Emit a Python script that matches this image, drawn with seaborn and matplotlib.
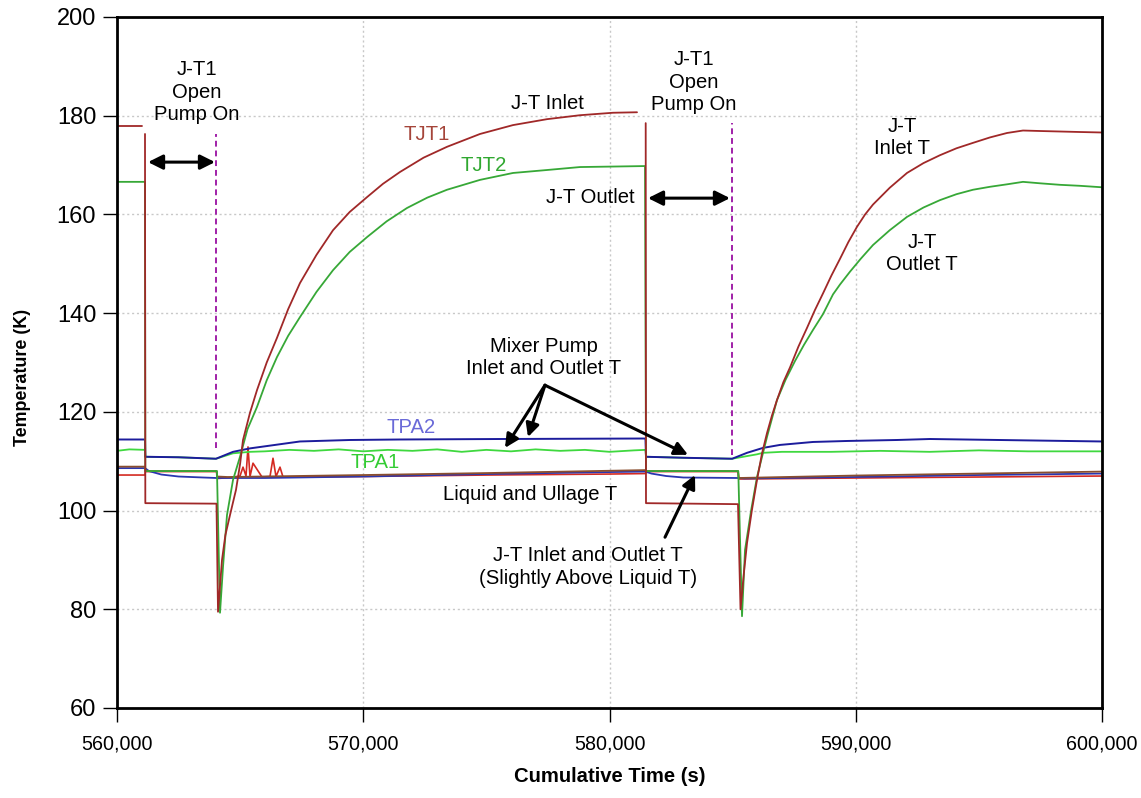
import numpy as np
import pandas as pd
import matplotlib
matplotlib.use("Agg")
import matplotlib.pyplot as plt
import matplotlib.ticker as mticker
from matplotlib import font_manager as fm
import seaborn as sns

NA = np.nan
# ---------------- data ----------------
tjt1_t = [560000, 561003, NA, 561137, 561150, 564040, 564102, 564180, 564264, 564400,
          564589, 564832, 565000, 565117, 565400, 565685, 566080, 566497, 566950, 567431,
          568100, 568772, 569450, 570152, 570800, 571492, 572450, 573401, 574741, 576081,
          577462, 578802, 580142, 581117, NA, 581470, 581482, 585218, 585320, 585450,
          585584, 585780, 585990, 586190, 586396, 586600, 586802, 587060, 587330, 587670,
          588020, 588340, 588670, 589010, 589360, 589700, 590051, 590380, 590700, 591380,
          592081, 592750, 593421, 594090, 594761, 595450, 596142, 596792, 597500, 598294,
          599100, 600000]
tjt1_v = [178.0, 178.0, NA, 176.3, 101.5, 101.4, 79.5, 84.5, 90.0, 95.0,
          99.1, 104.2, 109.5, 114.3, 119.8, 124.4, 130.0, 135.0, 140.8, 146.1,
          151.8, 156.8, 160.5, 163.5, 166.2, 168.6, 171.5, 173.7, 176.3, 178.1,
          179.3, 180.1, 180.6, 180.7, NA, 178.5, 101.5, 101.3, 80.0, 87.0,
          93.4, 100.0, 106.2, 111.5, 115.7, 119.3, 122.4, 126.0, 129.0, 133.2,
          137.0, 140.6, 144.0, 147.6, 151.0, 154.4, 157.5, 160.0, 162.0, 165.4,
          168.4, 170.4, 172.0, 173.4, 174.5, 175.6, 176.5, 177.0, 176.9, 176.8,
          176.7, 176.6]

tjt2_t = [560000, 561137, 561150, 564060, 564183, 564305, 564467, 564711, 564995, 565300,
          565685, 566080, 566497, 566950, 567431, 568100, 568772, 569450, 570152, 570950,
          571776, 572600, 573401, 574741, 576081, 577462, 578802, 580142, 581442, 581482,
          585230, 585381, 585503, 585750, 585990, 586400, 586802, 587150, 587533, 587900,
          588264, 588670, 589076, 589360, 589766, 590200, 590700, 591380, 592081, 592750,
          593421, 594090, 594761, 595450, 596142, 596792, 597500, 598294, 599100, 600000]
tjt2_v = [166.6, 166.6, 108.0, 108.0, 79.3, 88.6, 99.1, 106.2, 110.9, 116.5,
          121.0, 126.4, 131.1, 135.4, 139.2, 144.3, 148.7, 152.4, 155.4, 158.6,
          161.3, 163.4, 165.0, 167.0, 168.4, 169.0, 169.6, 169.7, 169.8, 108.0,
          108.0, 78.6, 92.0, 100.0, 106.8, 115.0, 122.4, 126.5, 130.3, 133.6,
          136.6, 139.8, 143.8, 145.8, 148.4, 151.0, 153.8, 156.8, 159.5, 161.4,
          162.9, 164.1, 165.0, 165.6, 166.1, 166.6, 166.3, 166.0, 165.8, 165.5]

tpa2_t = [560000, 561137, 561150, 562500, 564020, 564711, 565401, 566416, 567431, 569462,
          571492, 575553, 581460, 581482, 583000, 584980, 585584, 586234, 586924, 588264,
          589644, 591675, 593015, 600000]
tpa2_v = [114.4, 114.4, 110.9, 110.8, 110.5, 111.9, 112.6, 113.3, 114.0, 114.3,
          114.4, 114.5, 114.6, 110.9, 110.7, 110.5, 111.7, 112.7, 113.3, 113.9,
          114.1, 114.3, 114.5, 114.0]

tpa1_t = [560000, 560500, 561137, 561150, 562500, 564020, 564711, 565401, 566000, 567000,
          568000, 569000, 570000, 571000, 572000, 573000, 574000, 575000, 576000, 577000,
          578000, 579000, 580000, 581000, 581460, 581482, 583000, 584980, 585990, 586234,
          587000, 589000, 591000, 593000, 595000, 597000, 600000]
tpa1_v = [112.1, 112.4, 112.3, 110.9, 110.8, 110.5, 111.6, 111.9, 112.0, 112.3,
          112.1, 112.4, 112.0, 112.3, 112.1, 112.4, 111.9, 112.3, 112.0, 112.4,
          112.1, 112.3, 111.9, 112.2, 112.3, 110.9, 110.7, 110.5, 111.4, 111.7,
          111.9, 111.9, 112.1, 111.9, 112.2, 112.0, 112.0]

ullage_t = [560000, 561137, 561150, 564045, 564060, 564500, 570000, 575000, 581460, 581482,
            585220, 585240, 590000, 595000, 600000]
ullage_v = [108.9, 108.9, 108.0, 108.0, 106.9, 106.8, 107.2, 107.6, 108.2, 108.0,
            108.0, 106.6, 107.1, 107.5, 107.9]

liquid_t = [560000, 561137, 561300, 561800, 562500, 563500, 564050, 566000, 570000, 575000,
            580000, 581460, 581700, 582300, 583000, 585200, 585500, 590000, 595000, 600000]
liquid_v = [108.6, 108.6, 108.0, 107.3, 106.9, 106.7, 106.6, 106.6, 106.9, 107.4,
            107.8, 107.9, 107.5, 107.0, 106.7, 106.6, 106.5, 106.8, 107.2, 107.5]

red_t = [560000, 561137, 561150, 564045, 564080, 564600, 564995, 565117, 565239, 565320,
         565401, 565523, 565888, 566213, 566335, 566457, 566619, 566741, 567500, 570000,
         575000, 580000, 581460, 581482, 585220, 585260, 590000, 595000, 600000]
red_v = [107.2, 107.2, 107.9, 107.9, 106.5, 106.7, 107.0, 108.8, 107.0, 112.9,
         106.9, 109.6, 106.8, 106.9, 110.6, 106.9, 108.8, 106.8, 106.8, 106.9,
         107.2, 107.4, 107.5, 107.9, 107.9, 106.4, 106.6, 106.8, 107.0]

# event markers
pump_on_t = [564020, 584974]
pump_on_top = [176.3, 178.5]
pump_on_bottom = [112.6, 111.3]
span_start = [561259, 581563]
span_end = [563980, 584893]
span_y = [170.6, 163.3]

x_ticks = [560000, 570000, 580000, 590000, 600000]
y_ticks = [60, 80, 100, 120, 140, 160, 180, 200]

# ---------------- style ----------------
sns.set_theme(style="white")
installed = {f.name for f in fm.fontManager.ttflist}
if 'Liberation Sans Narrow' in installed:
    NARROW = ['Liberation Sans Narrow', 'DejaVu Sans']
    scale = 1.0
else:
    NARROW = ['Liberation Sans', 'DejaVu Sans']
    scale = 0.86
REG = ['Liberation Sans', 'DejaVu Sans']
plt.rcParams['font.family'] = NARROW
plt.rcParams['text.color'] = 'black'
plt.rcParams['axes.labelcolor'] = 'black'
plt.rcParams['xtick.color'] = 'black'
plt.rcParams['ytick.color'] = 'black'

fig = plt.figure(figsize=(11.41, 7.98), dpi=100)
ax = fig.add_axes([117 / 1141, 1 - 708 / 798, (1102 - 117) / 1141, (708 - 17) / 798])

series = [
    (red_t, red_v, '#D42A22', 1.2),
    (liquid_t, liquid_v, '#2A36B0', 1.3),
    (ullage_t, ullage_v, '#8A4E2E', 1.3),
    (tpa1_t, tpa1_v, '#3FD83F', 1.3),
    (tpa2_t, tpa2_v, '#1C1C9C', 1.4),
    (tjt2_t, tjt2_v, '#37A837', 1.3),
    (tjt1_t, tjt1_v, '#A02828', 1.3),
]
for t, v, c, lw in series:
    df = pd.DataFrame({'t': t, 'v': v})
    df['seg'] = df['t'].isna().cumsum()
    df = df.dropna()
    sns.lineplot(data=df, x='t', y='v', units='seg', ax=ax, color=c, linewidth=lw,
                 estimator=None, sort=False, legend=False)

# pump-on dashed lines
for x, y0, y1 in zip(pump_on_t, pump_on_bottom, pump_on_top):
    ax.vlines(x, y0, y1, colors='#A020A8', linestyles=(0, (3, 2)), linewidth=1.4, zorder=5)

# double arrows
for x0, x1, y in zip(span_start, span_end, span_y):
    ax.annotate('', xy=(x1, y), xytext=(x0, y),
                arrowprops=dict(arrowstyle='<|-|>', color='black', lw=2.2,
                                mutation_scale=22, shrinkA=0, shrinkB=0))

# axes formatting
ax.set_xlim(560000, 600000)
ax.set_ylim(60, 200)
ax.set_xticks(x_ticks)
ax.set_yticks(y_ticks)
ax.xaxis.set_major_formatter(mticker.FuncFormatter(lambda x, p: f"{int(x):,}"))
ax.grid(True, color='#C8C8C8', linestyle=(0, (1.5, 2)), linewidth=1.0)
ax.set_axisbelow(True)
for s in ax.spines.values():
    s.set_color('black')
    s.set_linewidth(2.0)
ax.tick_params(axis='both', direction='out', length=10, width=1.0, color='black',
               labelcolor='black', left=True, bottom=True)
ax.tick_params(axis='x', pad=9)
ax.tick_params(axis='y', pad=5)
for lab in ax.get_xticklabels():
    lab.set_fontsize(16.5 * scale)
    lab.set_family(NARROW)
for lab in ax.get_yticklabels():
    lab.set_fontsize(17)
    lab.set_family(REG)

ax.set_xlabel('Cumulative Time (s)', fontsize=17 * scale, fontweight='bold', labelpad=10,
              color='black')
ax.set_ylabel('Temperature (K)', fontsize=15 * scale, fontweight='bold', color='black')
ax.yaxis.set_label_coords(-0.087, 0.478)

# annotations
FS = 17 * scale
def txt(x, y, s, color='black', **kw):
    ax.text(x, y, s, color=color, fontsize=FS, ha='center', va='center',
            linespacing=1.25, **kw)

txt(563233, 184.8, 'J-T1\nOpen\nPump On')
txt(583431, 186.8, 'J-T1\nOpen\nPump On')
txt(577462, 182.4, 'J-T Inlet')
txt(572589, 176.1, 'TJT1', color='#A5453A')
txt(574904, 170.0, 'TJT2', color='#30A830')
txt(579208, 163.5, 'J-T Outlet')
txt(591878, 175.6, 'J-T\nInlet T')
txt(592690, 152.1, 'J-T\nOutlet T')
txt(577340, 131.0, 'Mixer Pump\nInlet and Outlet T')
txt(571939, 116.9, 'TPA2', color='#6A6AD8')
txt(570477, 109.8, 'TPA1', color='#33CC33')
txt(576772, 103.2, 'Liquid and Ullage T')
txt(579127, 88.5, 'J-T Inlet and Outlet T\n(Slightly Above Liquid T)')

arrow_kw = dict(arrowstyle='-|>', color='black', lw=2.2, mutation_scale=20, shrinkA=0, shrinkB=0)
for tgt in [(575756, 112.7), (576690, 114.9), (583188, 111.3)]:
    ax.annotate('', xy=tgt, xytext=(577380, 125.4), arrowprops=arrow_kw)
ax.annotate('', xy=(583472, 107.2), xytext=(582254, 94.6), arrowprops=arrow_kw)

fig.savefig('out.png', dpi=100)
